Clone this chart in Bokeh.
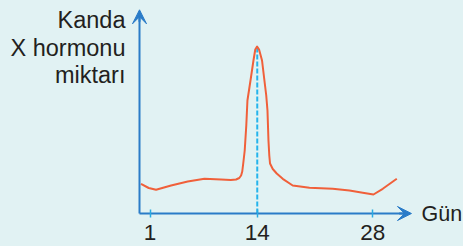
from bokeh.plotting import figure
from bokeh.models import Range1d, FixedTicker, Arrow, VeeHead, Label, ColumnDataSource, LinearAxis
from bokeh.embed import file_html
from bokeh.resources import INLINE

# ---- data ----
days = [-0.1, 0.84, 1.73, 3.55, 5.57, 7.60, 9.61, 10.79, 11.43, 11.82, 12.04, 12.18,
        12.30, 12.48, 12.67, 12.81, 13.18, 13.54, 13.76, 13.98, 14.22, 14.58, 14.87,
        15.09, 15.24, 15.36, 15.46, 15.55, 15.88, 16.36, 17.09, 18.30, 20.33, 23.15,
        25.18, 26.79, 28.09, 29.22, 30.92]
hormone = [14.85, 12.75, 11.85, 14.0, 16.0, 17.35, 17.0, 16.75, 17.0, 17.75, 19.0, 21.0,
           25.0, 31.5, 44.0, 56.5, 66.5, 76.5, 82.0, 83.5, 82.0, 76.5, 66.5,
           59.0, 51.5, 36.5, 29.0, 25.0, 22.25, 20.0, 17.35, 14.0, 12.85, 12.35,
           11.5, 10.35, 9.5, 12.35, 17.35]
x_ticks = [1, 14, 28]
peak_day = 14
peak_value = 83.5
y_title = ["Kanda", "X hormonu", "miktarı"]
x_title = "Gün"

BG = "#e1f2f3"
AXIS = "#2a7cc8"
TICK = "#29abe2"
CURVE = "#f0603a"
DASH = "#25b4ec"
TEXT = "#231f20"
FONT = "Liberation Sans"

# axis origin / ends (data units)
ax_x0, ax_x_tip = -0.278, 32.70
ax_y_tip = 101.85

p = figure(width=463, height=246, output_backend="svg", toolbar_location=None,
           x_range=Range1d(-17.133, 39.009), y_range=Range1d(-16.5, 106.5),
           x_axis_location=None, y_axis_location=None,
           min_border_left=0, min_border_right=0, min_border_top=0, min_border_bottom=0)
p.background_fill_color = BG
p.border_fill_color = BG
p.outline_line_color = None
p.grid.visible = False

xa = LinearAxis(fixed_location=0, bounds=(ax_x0, ax_x_tip - 0.6))
xa.ticker = FixedTicker(ticks=x_ticks)
xa.minor_tick_line_color = None
xa.axis_line_color = AXIS
xa.axis_line_width = 2
xa.major_tick_line_color = TICK
xa.major_tick_line_width = 1.5
xa.major_tick_in = 4
xa.major_tick_out = 4
xa.major_label_standoff = 7
xa.major_label_text_font = FONT
xa.major_label_text_font_size = "22.5px"
xa.major_label_text_color = TEXT
p.add_layout(xa, "below")

ya = LinearAxis(fixed_location=ax_x0, bounds=(0, ax_y_tip - 1))
ya.ticker = FixedTicker(ticks=[])
ya.minor_tick_line_color = None
ya.major_tick_line_color = None
ya.major_label_text_color = None
ya.axis_line_color = AXIS
ya.axis_line_width = 2
p.add_layout(ya, "left")

# dashed marker line at the peak day
p.line([peak_day, peak_day], [0, peak_value], line_color=DASH, line_width=2, line_dash="5 2")

# hormone curve
src = ColumnDataSource(dict(day=days, level=hormone))
p.line("day", "level", source=src, line_color=CURVE, line_width=2, line_join="round")

# axis arrows
p.add_layout(Arrow(x_start=ax_x0, y_start=ax_y_tip - 6, x_end=ax_x0, y_end=ax_y_tip,
                   line_color=AXIS, line_width=2,
                   end=VeeHead(size=14, fill_color=AXIS, line_color=AXIS)))
p.add_layout(Arrow(x_start=ax_x_tip - 1.5, y_start=0, x_end=ax_x_tip, y_end=0,
                   line_color=AXIS, line_width=2,
                   end=VeeHead(size=14, fill_color=AXIS, line_color=AXIS)))

# titles
ys = [97.0, 82.6, 69.1]
for t, yy in zip(y_title, ys):
    p.add_layout(Label(x=-1.98, y=yy, text=t, text_align="right", text_baseline="alphabetic",
                       text_font=FONT, text_font_size="23.5px", text_color=TEXT))
p.add_layout(Label(x=33.92, y=-0.2, text=x_title, text_align="left", text_baseline="alphabetic",
                   text_font=FONT, text_font_size="21.5px", text_color=TEXT))

html = file_html(p, INLINE)
html = html.replace("</head>",
                    "<style>html,body{background:%s;margin:0;padding:0;overflow:hidden;}</style></head>" % BG, 1)
open("out.html", "w").write(html)
